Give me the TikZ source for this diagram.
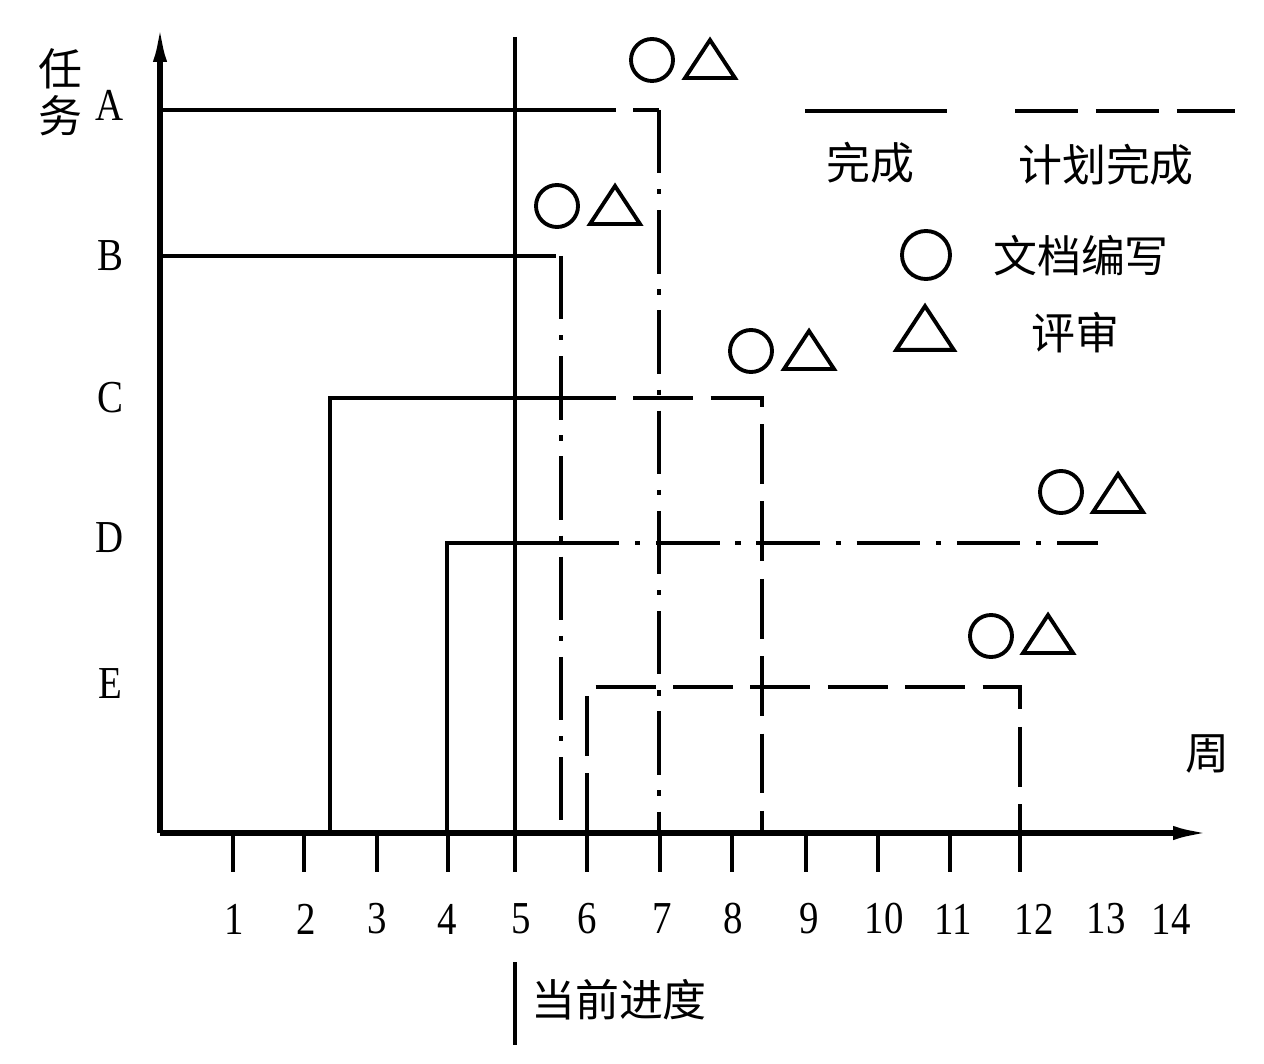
\documentclass[tikz,border=0pt]{standalone}
\usepackage{fontspec}
\setmainfont[FakeStretch=0.85]{Liberation Serif}
\newfontfamily\cjk{Noto Sans CJK SC}
\usetikzlibrary{arrows.meta}

\tikzset{
  axis/.style={line width=1.5pt, -{Latex[length=10.5pt, width=4pt]}},
  tick/.style={line width=1.1pt},
  done/.style={line width=1.3pt},
  plan/.style={line width=1.3pt, dash pattern=on 17pt off 5pt},
  plandot/.style={line width=1.3pt, dash pattern=on 18pt off 4.5pt on 1.5pt off 4.5pt},
  lbl/.style={font=\fontsize{13pt}{15pt}\selectfont, inner sep=0pt},
  cn/.style={font=\cjk\fontsize{12.5pt}{13.4pt}\selectfont, inner sep=0pt, align=center},
  docsign/.style={draw, circle, line width=1.1pt, minimum size=0.42cm, inner sep=0pt},
  revsign/.pic={\draw[line width=1.1pt] (-25,19) -- (0,-19) -- (25,19) -- cycle;}
}

\begin{document}
\begin{tikzpicture}[x=0.01cm, y=-0.01cm]
        \useasboundingbox (0,0) rectangle (1264,1064);

        % Axes
        \coordinate (O) at (160,833);
        \coordinate (ytop) at (160,25);
        \coordinate (xend) at (1210,833);
        \draw[axis] (O) -- (ytop);
        \draw[axis] (O) -- (xend);
        \node[cn] (taskname) at (60,92) {任\\务};
        \node[cn] (weekname) at (1207,754) {周};

        % Week ticks and labels
        \foreach \k/\px/\lx in {1/233/234, 2/304/306, 3/377/377, 4/448/447, 5/515/521, 6/587/587,
                                7/660/662, 8/732/733, 9/806/809, 10/878/884, 11/950/953, 12/1020/1034} {
            \draw[tick] (\px,833) -- (\px,872);
            \node[lbl] (w\k) at (\lx,919) {\k};
        }
        \node[lbl] (w13) at (1106,919) {13};
        \node[lbl] (w14) at (1171,919) {14};

        % Task labels
        \node[lbl] (tA) at (110,105) {A};
        \node[lbl] (tB) at (110,256) {B};
        \node[lbl] (tC) at (110,398) {C};
        \node[lbl] (tD) at (110,538) {D};
        \node[lbl] (tE) at (110,684) {E};

        % Task A
        \draw[done] (160,110) -- (556,110);
        \draw[plan] (556,110) -- (659,110);
        \draw[plandot] (659,110) -- (659,833);

        % Task B
        \draw[done] (160,256) -- (556,256);
        \draw[plandot] (561,256) -- (561,833);

        % Task C
        \draw[done] (330,833) -- (330,398) -- (556,398);
        \draw[plan] (556,398) -- (762,398) -- (762,833);

        % Task D
        \draw[done] (447,833) -- (447,543) -- (556,543);
        \draw[plandot] (556,543) -- (1098,543);

        % Task E
        \draw[plan] (587,833) -- (587,687) -- (1020,687) -- (1020,833);

        % Current progress line
        \draw[done] (515,37) -- (515,872);
        \draw[done] (515,962) -- (515,1045);
        \node[cn] (nowname) at (619,1000) {当前进度};

        % Documentation and review marks
        \node[docsign] (docA) at (652,60) {};
        \pic (revA) at (710,59) {revsign};
        \node[docsign] (docB) at (557,206) {};
        \pic (revB) at (615,205) {revsign};
        \node[docsign] (docC) at (751,351) {};
        \pic (revC) at (809,350) {revsign};
        \node[docsign] (docD) at (1061,492) {};
        \pic (revD) at (1118,493) {revsign};
        \node[docsign] (docE) at (991,636) {};
        \pic (revE) at (1048,634) {revsign};

        % Legend
        \draw[done] (805,111) -- (947,111);
        \draw[line width=1.3pt, dash pattern=on 18pt off 5pt] (1015,111) -- (1235,111);
        \node[cn] (donename) at (870,163) {完成};
        \node[cn] (planname) at (1106,165) {计划完成};
        \node[docsign, minimum size=0.48cm] (dockey) at (926,255) {};
        \node[cn] (docname) at (1081,256) {文档编写};
        \pic[scale=1.15] (revkey) at (925,328) {revsign};
        \node[cn] (revname) at (1075,333) {评审};
\end{tikzpicture}
\end{document}
